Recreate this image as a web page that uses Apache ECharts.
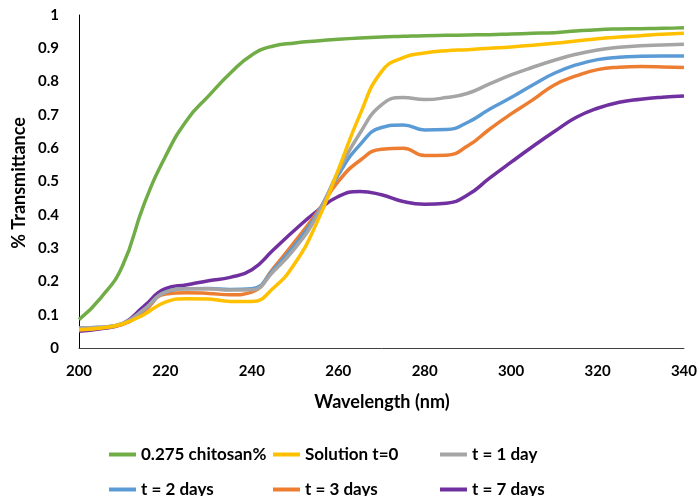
<!DOCTYPE html>
<html><head><meta charset="utf-8">
<script src="https://cdn.jsdelivr.net/npm/echarts@6/dist/echarts.min.js"></script>
<style>html,body{margin:0;padding:0;background:#fff}#c{width:700px;height:496px}</style>
</head><body><div id="c"></div>
<script>
const wavelengths = [200,205,210,215,220,225,230,235,240,245,250,255,260,265,270,275,280,285,290,295,300,305,310,315,320,325,330,335,340];
const seriesNames = ['0.275 chitosan%','Solution t=0','t = 1 day','t = 2 days','t = 3 days','t = 7 days'];
const chitosan = [0.085,0.15,0.245,0.43,0.575,0.685,0.757,0.825,0.88,0.907,0.916,0.922,0.927,0.931,0.934,0.936,0.938,0.939,0.94,0.941,0.943,0.945,0.947,0.952,0.956,0.958,0.959,0.96,0.962];
const solutionT0 = [0.055,0.06,0.072,0.10,0.138,0.148,0.147,0.14,0.14,0.18,0.255,0.375,0.535,0.70,0.83,0.872,0.886,0.893,0.896,0.90,0.904,0.909,0.915,0.922,0.929,0.934,0.938,0.942,0.945];
const day1 = [0.06,0.062,0.073,0.115,0.168,0.178,0.178,0.174,0.175,0.23,0.30,0.395,0.53,0.645,0.73,0.752,0.746,0.752,0.765,0.793,0.82,0.843,0.864,0.882,0.895,0.903,0.908,0.91,0.912];
const day2 = [0.06,0.062,0.073,0.115,0.168,0.178,0.179,0.176,0.178,0.235,0.31,0.40,0.52,0.61,0.662,0.67,0.655,0.656,0.678,0.717,0.752,0.79,0.825,0.85,0.866,0.873,0.876,0.877,0.877];
const day3 = [0.055,0.06,0.07,0.11,0.162,0.166,0.164,0.16,0.168,0.24,0.32,0.405,0.50,0.563,0.597,0.60,0.578,0.579,0.607,0.657,0.703,0.745,0.79,0.817,0.836,0.843,0.845,0.844,0.842];
const day7 = [0.05,0.058,0.072,0.125,0.178,0.19,0.202,0.212,0.235,0.295,0.355,0.41,0.455,0.47,0.46,0.44,0.432,0.435,0.46,0.51,0.558,0.605,0.65,0.692,0.72,0.738,0.747,0.753,0.757];
const yTickLabels = ['0','0.1','0.2','0.3','0.4','0.5','0.6','0.7','0.8','0.9','1'];
const xTickLabels = ['200','220','240','260','280','300','320','340'];

const allData = [chitosan, solutionT0, day1, day2, day3, day7];
const colors = ['#70AD47','#FFC000','#A5A5A5','#5B9BD5','#ED7D31','#7030A0'];
const FONT = 'Lato';

const legendPos = [[104,441],[268,441],[435,441],[104,476],[268,476],[435,476]];
const legends = seriesNames.map((n,i)=>({
  data:[n], left:legendPos[i][0], top:legendPos[i][1], icon:'rect',
  itemWidth:27, itemHeight:4, itemGap:0, selectedMode:false,
  textStyle:{fontFamily:FONT,fontWeight:'bold',fontSize:17,color:'#000'}
}));

const chart = echarts.init(document.getElementById('c'), null, {renderer:'canvas'});
chart.setOption({
  animation:false,
  backgroundColor:'#fff',
  grid:{left:79,right:15,top:15,bottom:148,containLabel:false},
  xAxis:{type:'value',min:200,max:340,interval:20,
    axisLine:{lineStyle:{color:'#404040',width:1}},axisTick:{show:false},splitLine:{show:false},
    axisLabel:{margin:16,fontFamily:FONT,fontWeight:'bold',fontSize:15,color:'#000',
      formatter:(v)=>xTickLabels[Math.round((v-200)/20)]}},
  yAxis:{type:'value',min:0,max:1,interval:0.1,
    axisLine:{show:true,lineStyle:{color:'#000',width:1}},axisTick:{show:false},splitLine:{show:false},
    axisLabel:{margin:20,fontFamily:FONT,fontWeight:'bold',fontSize:15,color:'#000',
      formatter:(v)=>yTickLabels[Math.round(v*10)]}},
  legend:legends,
  graphic:[
    {type:'text',x:382,y:402,style:{text:'Wavelength (nm)',fontFamily:FONT,fontWeight:'bold',fontSize:18,fill:'#000',align:'center',verticalAlign:'middle'}},
    {type:'text',rotation:Math.PI/2,x:19,y:183,style:{text:'% Transmittance',fontFamily:FONT,fontWeight:'bold',fontSize:18,fill:'#000',align:'center',verticalAlign:'middle'}}
  ],
  series:allData.map((d,i)=>({
    name:seriesNames[i],type:'line',smooth:0.5,symbol:'none',
    data:wavelengths.map((w,j)=>[w,d[j]]),
    lineStyle:{color:colors[i],width:3.5},itemStyle:{color:colors[i]},
    z:10-i
  }))
});
</script></body></html>
